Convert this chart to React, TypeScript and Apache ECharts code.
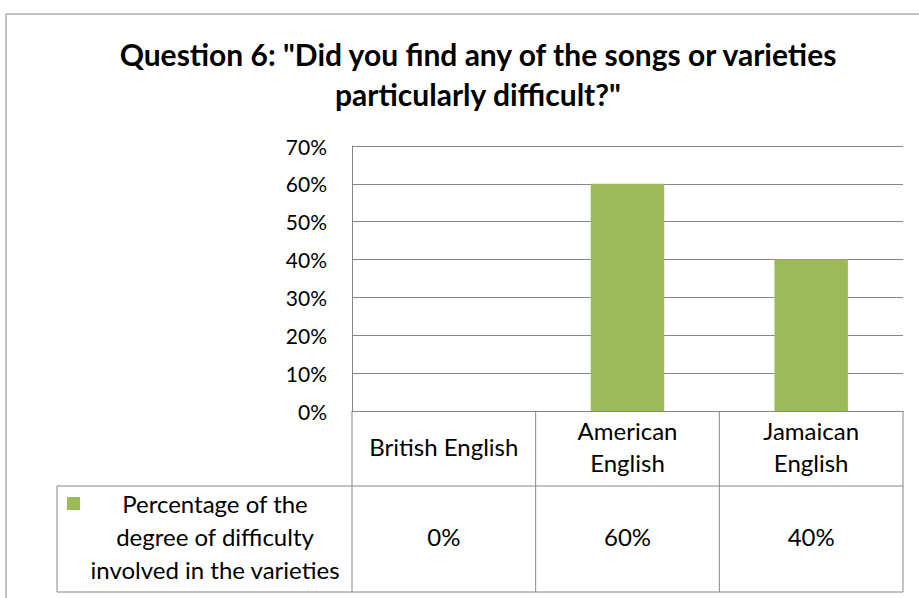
import React, { useEffect, useRef } from "react";
import * as echarts from "echarts";

const categories: string[] = ["British English", "American\nEnglish", "Jamaican\nEnglish"];
const values: number[] = [0, 0.6, 0.4];
const seriesName = "Percentage of the\ndegree of difficulty\ninvolved in the varieties";
const titleText = 'Question 6: "Did you find any of the songs or varieties\nparticularly difficult?"';

const W = 919;
const H = 598;
const GL = 352;
const GR = 903;
const GT = 146;
const GB = 411;
const ROW1 = 486;
const ROW2 = 592;
const TL = 57;
const LINE = "#868686";
const FONT = "Lato";
const GREEN = "#9BBB59";

const pct = (v: number) => `${Math.round(v * 100)}%`;

export default function App() {
  const ref = useRef<HTMLDivElement>(null);
  useEffect(() => {
    document.body.style.margin = "0";
    const chart = echarts.init(ref.current!, null, { renderer: "svg" });
    const colW = (GR - GL) / categories.length;
    const tableLines: any[] = [];
    for (let i = 0; i <= categories.length; i++) {
      const x = GL + colW * i;
      tableLines.push({ type: "line", shape: { x1: x, y1: GB, x2: x, y2: ROW2 }, style: { stroke: LINE, lineWidth: 1 } });
    }
    tableLines.push({ type: "line", shape: { x1: TL, y1: ROW1, x2: GR, y2: ROW1 }, style: { stroke: LINE, lineWidth: 1 } });
    tableLines.push({ type: "line", shape: { x1: TL, y1: ROW2, x2: GR, y2: ROW2 }, style: { stroke: LINE, lineWidth: 1 } });
    tableLines.push({ type: "line", shape: { x1: TL, y1: ROW1, x2: TL, y2: ROW2 }, style: { stroke: LINE, lineWidth: 1 } });

    chart.setOption({
      animation: false,
      backgroundColor: "#ffffff",
      title: {
        text: titleText,
        left: 473,
        top: 29,
        textAlign: "center",
        textStyle: { fontFamily: FONT, fontSize: 30, fontWeight: "bold", color: "#000", lineHeight: 40 },
      },
      grid: { left: GL, right: W - GR, top: GT, bottom: H - GB, containLabel: false },
      xAxis: [
        {
          type: "category",
          data: categories,
          axisLine: { show: true, lineStyle: { color: LINE } },
          axisTick: { show: false },
          axisLabel: {
            interval: 0,
            margin: 35,
            verticalAlign: "middle",
            fontFamily: FONT,
            fontSize: 24,
            lineHeight: 32,
            color: "#000",
          },
        },
        {
          type: "category",
          position: "bottom",
          data: values.map(pct),
          axisLine: { show: false },
          axisTick: { show: false },
          axisLabel: {
            interval: 0,
            margin: 125,
            verticalAlign: "middle",
            fontFamily: FONT,
            fontSize: 24,
            color: "#000",
          },
        },
      ],
      yAxis: {
        type: "value",
        min: 0,
        max: 0.7,
        interval: 0.1,
        axisLine: { show: true, lineStyle: { color: LINE } },
        axisTick: { show: false },
        splitLine: { show: true, lineStyle: { color: LINE, width: 1 } },
        axisLabel: {
          formatter: (v: number) => pct(v),
          margin: 25,
          fontFamily: FONT,
          fontSize: 21,
          color: "#000",
        },
      },
      series: [
        {
          name: seriesName,
          type: "bar",
          data: values,
          barWidth: "40%",
          itemStyle: { color: GREEN },
        },
      ],
      graphic: [
        { type: "rect", shape: { x: 6, y: 14, width: 1000, height: 1000 }, style: { fill: "none", stroke: LINE, lineWidth: 1 }, z: 100 },
        ...tableLines,
        { type: "rect", shape: { x: 67, y: 497, width: 13, height: 13 }, style: { fill: GREEN } },
        {
          type: "text",
          x: 215,
          y: 536,
          style: {
            text: seriesName,
            fontFamily: FONT,
            fontSize: 24,
            lineHeight: 33,
            fill: "#000",
            align: "center",
            verticalAlign: "middle",
          },
        },
      ],
    });
    return () => chart.dispose();
  }, []);
  return <div ref={ref} style={{ width: W, height: H }} />;
}
